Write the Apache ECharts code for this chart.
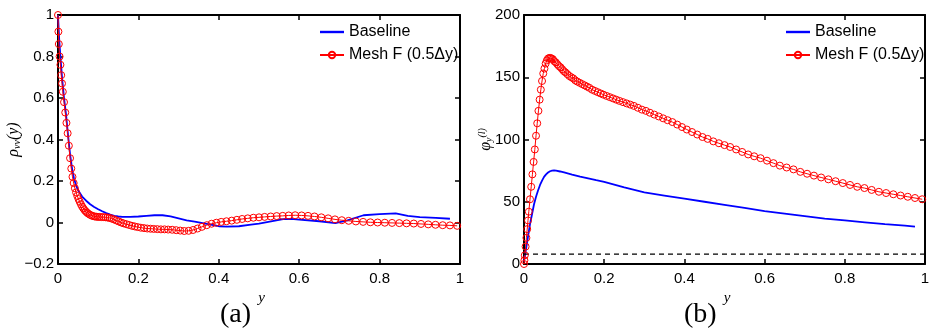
<!DOCTYPE html>
<html>
<head>
<meta charset="utf-8">
<script src="https://cdn.jsdelivr.net/npm/echarts@6/dist/echarts.min.js"></script>
<style>
  html, body { margin: 0; padding: 0; background: #fff; }
  #chart { width: 933px; height: 331px; }
</style>
</head>
<body>
<div id="chart"></div>
<script>
// legend names
const seriesNames = ['Baseline', 'Mesh F (0.5Δy)']

// wall-normal grid of mesh F (same points in both panels)
const meshX = [
  0, 0.001, 0.002, 0.004, 0.006, 0.008, 0.010, 0.012, 0.015, 0.018,
  0.021, 0.024, 0.027, 0.030, 0.033, 0.036, 0.039, 0.042, 0.045, 0.048,
  0.051, 0.054, 0.057, 0.060, 0.063, 0.066, 0.069, 0.072, 0.075, 0.079,
  0.083, 0.087, 0.091, 0.095, 0.099, 0.103, 0.108, 0.113, 0.118, 0.123,
  0.128, 0.133, 0.139, 0.145, 0.151, 0.157, 0.163, 0.170, 0.177, 0.184,
  0.191, 0.198, 0.206, 0.214, 0.222, 0.230, 0.238, 0.247, 0.256, 0.265,
  0.274, 0.284, 0.294, 0.304, 0.314, 0.325, 0.336, 0.347, 0.358, 0.370,
  0.382, 0.394, 0.406, 0.419, 0.432, 0.445, 0.458, 0.472, 0.486, 0.500,
  0.514, 0.529, 0.544, 0.559, 0.574, 0.590, 0.606, 0.622, 0.638, 0.655,
  0.672, 0.689, 0.706, 0.723, 0.741, 0.759, 0.777, 0.795, 0.813, 0.831,
  0.849, 0.867, 0.885, 0.903, 0.921, 0.939, 0.957, 0.975, 0.993
]

// (a) rho_vv, mesh F
const rhoMesh = [
  1.0, 0.92, 0.86, 0.80, 0.76, 0.71, 0.67, 0.63, 0.58, 0.53,
  0.48, 0.43, 0.37, 0.31, 0.26, 0.22, 0.19, 0.165, 0.145, 0.128,
  0.113, 0.100, 0.088, 0.077, 0.068, 0.060, 0.054, 0.048, 0.043, 0.038,
  0.034, 0.031, 0.029, 0.028, 0.027, 0.027, 0.026, 0.026, 0.025, 0.024,
  0.022, 0.019, 0.015, 0.010, 0.005, 0.000, -0.004, -0.008, -0.012, -0.016,
  -0.019, -0.022, -0.025, -0.027, -0.029, -0.030, -0.031, -0.032, -0.033, -0.033,
  -0.034, -0.035, -0.037, -0.039, -0.041, -0.040, -0.036, -0.029, -0.021, -0.013,
  -0.006, -0.001, 0.003, 0.006, 0.009, 0.013, 0.017, 0.020, 0.023, 0.025,
  0.027, 0.029, 0.031, 0.032, 0.034, 0.035, 0.034, 0.032, 0.029, 0.025,
  0.020, 0.015, 0.011, 0.008, 0.005, 0.003, 0.001, 0.000, -0.001, -0.002,
  -0.003, -0.004, -0.005, -0.007, -0.009, -0.011, -0.013, -0.014, -0.016
]

// (b) phi_y, mesh F
const phiMesh = [
  0, 3, 7, 14, 21, 28, 35, 42, 52, 62,
  72, 82, 92, 103, 113, 123, 132, 140, 147, 153,
  157, 161, 163.5, 165, 165.5, 165.5, 165, 164.5, 163, 162,
  160.5, 159, 158, 156.5, 155, 154, 152.5, 151, 150, 149,
  147.5, 146.5, 145.5, 144.5, 143.5, 142.5, 141.5, 140, 139, 138,
  137, 136, 135, 134, 133, 132, 131, 130, 129, 128,
  127, 125.5, 124, 123, 121.5, 120, 118.5, 117, 115.5, 114,
  112, 110, 108, 106, 104, 102, 100.5, 98.5, 97, 95.5,
  94, 92, 90, 88, 86.5, 85, 83, 81, 79, 77.5,
  76, 74, 72.5, 71, 69.5, 68, 66.5, 65, 63.5, 62,
  61, 59.5, 58, 57, 56, 55, 54, 53, 52
]

// (a) rho_vv, baseline
const baseRhoX = [
  0, 0.003, 0.006, 0.010, 0.015, 0.020, 0.025, 0.030, 0.035, 0.040,
  0.045, 0.050, 0.060, 0.070, 0.080, 0.090, 0.100, 0.110, 0.120, 0.130,
  0.140, 0.150, 0.160, 0.180, 0.200, 0.220, 0.240, 0.260, 0.280, 0.300,
  0.320, 0.340, 0.360, 0.380, 0.400, 0.420, 0.450, 0.480, 0.500, 0.530,
  0.560, 0.580, 0.600, 0.650, 0.690, 0.720, 0.760, 0.800, 0.840, 0.870,
  0.900, 0.940, 0.975
]
const baseRho = [
  1.0, 0.88, 0.80, 0.70, 0.60, 0.52, 0.42, 0.33, 0.26, 0.21,
  0.18, 0.155, 0.125, 0.105, 0.088, 0.075, 0.064, 0.054, 0.045, 0.038,
  0.032, 0.029, 0.027, 0.027, 0.029, 0.032, 0.035, 0.035, 0.030, 0.020,
  0.010, 0.004, -0.003, -0.010, -0.018, -0.020, -0.018, -0.010, -0.005, 0.005,
  0.016, 0.017, 0.014, 0.006, -0.003, 0.010, 0.035, 0.040, 0.044, 0.032,
  0.026, 0.022, 0.018
]

// (b) phi_y, baseline
const basePhiX = [
  0, 0.005, 0.010, 0.015, 0.020, 0.025, 0.030, 0.035, 0.040, 0.045,
  0.050, 0.055, 0.060, 0.065, 0.070, 0.075, 0.080, 0.090, 0.100, 0.120,
  0.140, 0.160, 0.180, 0.200, 0.250, 0.300, 0.350, 0.400, 0.450, 0.500,
  0.550, 0.600, 0.650, 0.700, 0.750, 0.800, 0.850, 0.900, 0.950, 0.975
]
const basePhi = [
  2, 12, 22, 32, 40, 48, 54, 59, 63.5, 67,
  70, 72, 73.5, 74.5, 75, 75.2, 75, 74.3, 73.5, 71.8,
  70.2, 68.8, 67.3, 66, 61.5, 57.5, 55, 52.5, 50, 47.5,
  45, 42.5, 40.5, 38.5, 36.5, 35, 33.5, 32, 30.8, 30
]

// dashed reference level in (b)
const refLineX = [0, 1]
const refLineY = [8, 8]

const zip = (xs, ys) => xs.map((x, i) => [x, ys[i]])

const tickFont = {
  color: '#000',
  fontFamily: 'Liberation Sans',
  fontSize: 15
}
const lineStyle = { color: '#000', width: 2 }

// bottom x axis with labels + plain top axis (box frame)
const makeX = (gridIndex, position, labels) => ({
  type: 'value',
  gridIndex: gridIndex,
  position: position,
  min: 0,
  max: 1,
  interval: 0.2,
  axisLine: { show: true, onZero: false, lineStyle: lineStyle },
  axisTick: { show: true, inside: true, length: 5, lineStyle: { width: 1.5 } },
  axisLabel: { show: labels, margin: 7, ...tickFont },
  splitLine: { show: false },
  name: labels ? 'y' : '',
  nameLocation: 'middle',
  nameGap: 12,
  nameTextStyle: {
    fontFamily: 'Liberation Serif',
    fontStyle: 'italic',
    fontSize: 15,
    color: '#000',
    padding: [0, 0, 0, 5]
  }
})

const makeY = (gridIndex, position, labels, min, max, interval, name, nameGap) => ({
  type: 'value',
  gridIndex: gridIndex,
  position: position,
  min: min,
  max: max,
  interval: interval,
  axisLine: { show: true, onZero: false, lineStyle: lineStyle },
  axisTick: { show: true, inside: true, length: 5, lineStyle: { width: 1.5 } },
  axisLabel: {
    show: labels,
    margin: 4,
    ...tickFont,
    formatter: (v) => String(+v.toFixed(2)).replace('-', '\u2212')
  },
  splitLine: { show: false },
  name: labels ? name : '',
  nameLocation: 'middle',
  nameGap: nameGap,
  nameMoveOverlap: false,
  nameRotate: 90,
  nameTextStyle: {
    color: '#000',
    fontFamily: 'Liberation Serif',
    fontStyle: 'italic',
    fontSize: 15,
    rich: {
      big: { fontFamily: 'Liberation Serif', fontStyle: 'italic', fontSize: 16, color: '#000' },
      sub: { fontFamily: 'Liberation Serif', fontStyle: 'italic', fontSize: 10, color: '#000', padding: [6, 0, 0, 0] },
      sup: { fontFamily: 'Liberation Serif', fontStyle: 'italic', fontSize: 10, color: '#000', padding: [0, 0, 8, 0] }
    }
  }
})

const legendBase = {
  orient: 'vertical',
  top: 24,
  padding: 0,
  itemWidth: 24,
  itemHeight: 8,
  itemGap: 7,
  data: [
    // plain line for the baseline, line + circle (inherited) for mesh F
    { name: seriesNames[0], icon: 'path://M0,0H24V2.4H0Z' },
    { name: seriesNames[1] }
  ],
  textStyle: { color: '#000', fontFamily: 'Liberation Sans', fontSize: 16 }
}

const redStyle = {
  type: 'line',
  name: seriesNames[1],
  symbol: 'circle',
  symbolSize: 7,
  showSymbol: true,
  lineStyle: { color: '#ff0000', width: 1 },
  itemStyle: { color: 'rgba(255,255,255,0)', borderColor: '#ff0000', borderWidth: 1 },
  emphasis: { disabled: true }
}
const blueStyle = {
  type: 'line',
  name: seriesNames[0],
  showSymbol: false,
  symbol: 'none',
  color: '#0000ff',
  lineStyle: { color: '#0000ff', width: 1.8 },
  emphasis: { disabled: true }
}

let myChart
const updateChart = () => {
  const option = {
    animation: false,
    backgroundColor: '#fff',
    grid: [
      { left: 58, top: 15, width: 402, height: 249 },
      { left: 524, top: 15, width: 401, height: 249 }
    ],
    xAxis: [
      makeX(0, 'bottom', true),
      makeX(0, 'top', false),
      makeX(1, 'bottom', true),
      makeX(1, 'top', false)
    ],
    yAxis: [
      makeY(0, 'left', true, -0.2, 1, 0.2, '{big|ρ}{sub|vv}{big|(y)}', 36),
      makeY(0, 'right', false, -0.2, 1, 0.2, '', 0),
      makeY(1, 'left', true, 0, 200, 50, '{big|φ}{sub|y}{sup|(l)}', 29),
      makeY(1, 'right', false, 0, 200, 50, '', 0)
    ],
    legend: [
      { ...legendBase, left: 319 },
      { ...legendBase, left: 785 }
    ],
    series: [
      // panel (a)
      { ...blueStyle, xAxisIndex: 0, yAxisIndex: 0, data: zip(baseRhoX, baseRho), z: 2 },
      { ...redStyle, xAxisIndex: 0, yAxisIndex: 0, data: zip(meshX, rhoMesh), z: 3 },
      // panel (b)
      { ...blueStyle, xAxisIndex: 2, yAxisIndex: 2, data: zip(basePhiX, basePhi), z: 2 },
      { ...redStyle, xAxisIndex: 2, yAxisIndex: 2, data: zip(meshX, phiMesh), z: 3 },
      {
        type: 'line',
        name: 'ref',
        xAxisIndex: 2,
        yAxisIndex: 2,
        symbol: 'none',
        data: zip(refLineX, refLineY),
        lineStyle: { color: '#000', width: 1.3, type: [5, 4] },
        emphasis: { disabled: true }
      }
    ],
    graphic: [
      {
        type: 'text',
        left: 236 - 16,
        top: 301,
        style: { text: '(a)', fontFamily: 'Liberation Serif', fontSize: 28, fill: '#000' }
      },
      {
        type: 'text',
        left: 700 - 16,
        top: 301,
        style: { text: '(b)', fontFamily: 'Liberation Serif', fontSize: 28, fill: '#000' }
      }
    ]
  }
  myChart.setOption(option, { notMerge: true })
}

myChart = echarts.init(document.getElementById('chart'))
updateChart()
</script>
</body>
</html>
